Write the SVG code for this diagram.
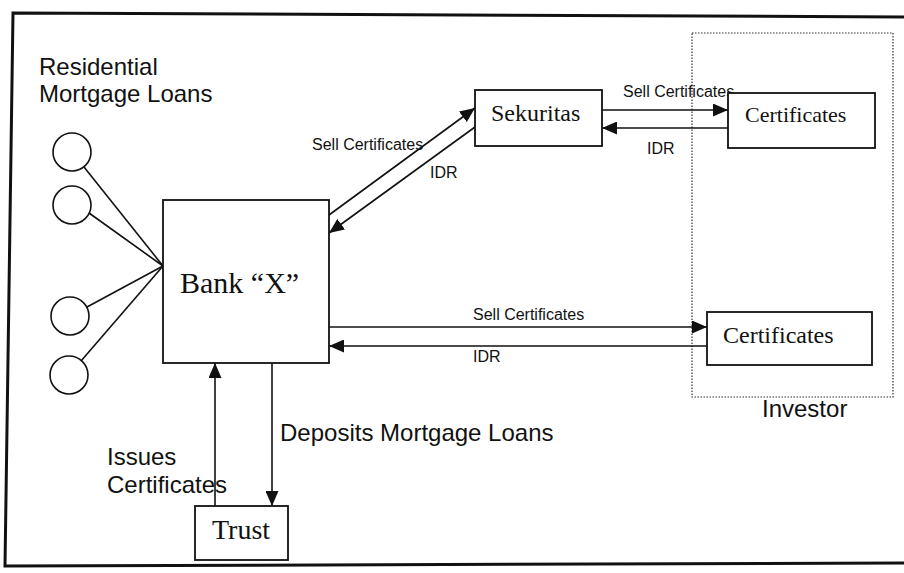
<svg xmlns="http://www.w3.org/2000/svg" width="904" height="573" viewBox="0 0 904 573">
<style>
.box{fill:#fff;stroke:#111;stroke-width:1.8}
.circ{fill:#fff;stroke:#111;stroke-width:1.6}
.ln{fill:none;stroke:#111;stroke-width:1.6}
.serif{font-family:"Liberation Serif","Times New Roman",serif;fill:#111}
.sans{font-family:"Liberation Sans",Arial,sans-serif;fill:#111}
.sm{font-size:16px}
.lg{font-size:24px}
</style>
<defs>
<marker id="ah" markerUnits="userSpaceOnUse" markerWidth="15" markerHeight="13" refX="15" refY="6.5" orient="auto">
<path d="M0,0 L15,6.5 L0,13 Z" fill="#111"/>
</marker>
</defs>
<rect x="0" y="0" width="904" height="573" fill="#fff"/>
<path d="M904,17 L13,13 L5,566 L904,563" fill="none" stroke="#111" stroke-width="3"/>
<g id="investor-group">
<rect x="692" y="33" width="201" height="364" fill="none" stroke="#333" stroke-width="1.2" stroke-dasharray="1.5 1.5"/>
<text class="sans lg" x="762" y="417">Investor</text>
</g>
<g id="residential-label">
<text class="sans lg" x="39" y="75">Residential</text>
<text class="sans lg" x="39" y="102">Mortgage Loans</text>
</g>
<g id="connectors">
<line class="ln" x1="84" y1="167" x2="163" y2="266"/>
<line class="ln" x1="89" y1="213" x2="163" y2="266"/>
<line class="ln" x1="87" y1="307" x2="163" y2="266"/>
<line class="ln" x1="81" y1="361" x2="163" y2="266"/>
<line class="ln" x1="329" y1="215" x2="475" y2="108" marker-end="url(#ah)"/>
<line class="ln" x1="475" y1="127" x2="329" y2="233" marker-end="url(#ah)"/>
<line class="ln" x1="602" y1="110" x2="728" y2="110" marker-end="url(#ah)"/>
<line class="ln" x1="728" y1="128" x2="602" y2="128" marker-end="url(#ah)"/>
<line class="ln" x1="329" y1="327" x2="707" y2="327" marker-end="url(#ah)"/>
<line class="ln" x1="707" y1="346" x2="329" y2="346" marker-end="url(#ah)"/>
<line class="ln" x1="215" y1="506" x2="215" y2="363" marker-end="url(#ah)"/>
<line class="ln" x1="272" y1="363" x2="272" y2="506" marker-end="url(#ah)"/>
<text class="sans sm" x="312" y="150">Sell Certificates</text>
<text class="sans sm" x="430" y="178">IDR</text>
<text class="sans sm" x="623" y="97">Sell Certificates</text>
<text class="sans sm" x="647" y="154">IDR</text>
<text class="sans sm" x="473" y="320">Sell Certificates</text>
<text class="sans sm" x="473" y="362">IDR</text>
<text class="sans lg" x="280" y="441">Deposits Mortgage Loans</text>
<text class="sans lg" x="107" y="465">Issues</text>
<text class="sans lg" x="107" y="493">Certificates</text>
</g>
<g id="loan1"><circle class="circ" cx="72" cy="152" r="19"/></g>
<g id="loan2"><circle class="circ" cx="72" cy="205" r="19"/></g>
<g id="loan3"><circle class="circ" cx="70" cy="316" r="19"/></g>
<g id="loan4"><circle class="circ" cx="69" cy="375" r="19"/></g>
<g id="bank">
<rect class="box" x="163" y="200" width="166" height="163"/>
<text class="serif" font-size="30" x="180" y="293">Bank “X”</text>
</g>
<g id="sekuritas">
<rect class="box" x="475" y="90" width="127" height="56"/>
<text class="serif" font-size="24" x="491" y="121">Sekuritas</text>
</g>
<g id="certificates-top">
<rect class="box" x="728" y="93" width="147" height="55"/>
<text class="serif" font-size="22" x="745" y="122">Certificates</text>
</g>
<g id="certificates-bottom">
<rect class="box" x="707" y="312" width="165" height="53"/>
<text class="serif" font-size="24" x="723" y="343">Certificates</text>
</g>
<g id="trust">
<rect class="box" x="195" y="506" width="93" height="54"/>
<text class="serif" font-size="28" x="212" y="539">Trust</text>
</g>
</svg>
